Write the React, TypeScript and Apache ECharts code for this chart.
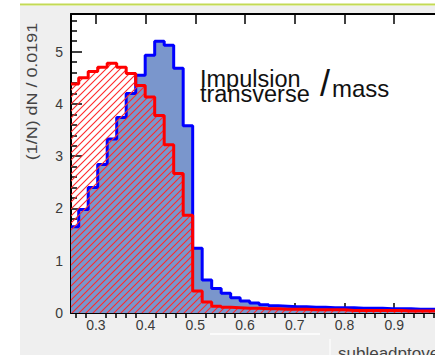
import React, { useEffect, useRef } from 'react';
import * as echarts from 'echarts';

// ---- data ----
const axisMin = 0.25;
const axisMax = 0.982;
const yMax = 5.72;
const firstEdge = 0.2655;
const binWidth = 0.0191;

const xMajorTicks = [0.3, 0.4, 0.5, 0.6, 0.7, 0.8, 0.9];
const xTickLabels = ['0.3', '0.4', '0.5', '0.6', '0.7', '0.8', '0.9'];
const yMajorTicks = [0, 1, 2, 3, 4, 5];
const yTickLabels = ['0', '1', '2', '3', '4', '5'];

const blueValues = [
  1.65, 1.98, 2.4, 2.84, 3.33, 3.74, 4.2, 4.55, 4.93, 5.2,
  5.12, 4.68, 3.58, 1.24, 0.63, 0.47, 0.38, 0.29, 0.23, 0.19,
  0.16, 0.14, 0.13, 0.12, 0.12, 0.11, 0.11, 0.1, 0.1, 0.1,
  0.09, 0.09, 0.09, 0.08, 0.08, 0.08, 0.07, 0.07, 0.07, 0.06,
];
const redValues = [
  4.38, 4.5, 4.62, 4.7, 4.78, 4.7, 4.58, 4.35, 4.13, 3.78,
  3.22, 2.67, 1.87, 0.42, 0.21, 0.13, 0.11, 0.1, 0.09, 0.09,
  0.08, 0.08, 0.07, 0.07, 0.07, 0.06, 0.06, 0.06, 0.06, 0.05,
  0.05, 0.05, 0.05, 0.05, 0.05, 0.04, 0.04, 0.04, 0.04, 0.04,
];

const yTitle = '(1/N) dN / 0.0191';
const xTitle = 'subleadptoverm';
const annotLines = ['Impulsion', 'transverse'];
const annotSlash = '/';
const annotMass = 'mass';

const FONT = '"Liberation Sans", Arial, sans-serif';

function stepPoints(values: number[]) {
  const pts: number[][] = [];
  values.forEach((v, i) => {
    const left = i === 0 ? axisMin : firstEdge + (i - 1) * binWidth;
    pts.push([left, v]);
  });
  const lastRight = firstEdge + (values.length - 1) * binWidth;
  pts.push([lastRight, values[values.length - 1]]);
  return pts;
}

function minorTicks(min: number, max: number, step: number, majors: number[]) {
  const out: number[] = [];
  const start = Math.ceil(min / step - 1e-9);
  for (let k = start; k * step <= max + 1e-9; k++) {
    const v = Math.round(k * step * 1000) / 1000;
    if (v <= min + 1e-9 || v >= max - 1e-9) continue;
    if (majors.some((m) => Math.abs(m - v) < 1e-6)) continue;
    out.push(v);
  }
  return out;
}

function makeHatch() {
  const s = 7;
  const c = document.createElement('canvas');
  c.width = s;
  c.height = s;
  const ctx = c.getContext('2d')!;
  ctx.strokeStyle = '#ff2a2a';
  ctx.lineWidth = 1.1;
  ctx.beginPath();
  ctx.moveTo(0, s);
  ctx.lineTo(s, 0);
  ctx.moveTo(-2, 2);
  ctx.lineTo(2, -2);
  ctx.moveTo(s - 2, s + 2);
  ctx.lineTo(s + 2, s - 2);
  ctx.stroke();
  return { image: c, repeat: 'repeat', imageWidth: s, imageHeight: s };
}

export default function App() {
  const ref = useRef<HTMLDivElement>(null);
  useEffect(() => {
    if (!ref.current) return;
    const chart = echarts.init(ref.current, null, { renderer: 'svg' });
    const xMinor = minorTicks(axisMin, axisMax, 0.02, xMajorTicks);
    const yMinor = minorTicks(0, yMax, 0.2, yMajorTicks);
    const xFmt = (v: number) => {
      const i = xMajorTicks.findIndex((t) => Math.abs(t - v) < 1e-6);
      return i >= 0 ? xTickLabels[i] : '';
    };
    const yFmt = (v: number) => {
      const i = yMajorTicks.findIndex((t) => Math.abs(t - v) < 1e-6);
      return i >= 0 ? yTickLabels[i] : '';
    };
    const axisCommon = {
      type: 'value',
      min: axisMin,
      max: axisMax,
      splitLine: { show: false },
    };
    const yCommon = {
      type: 'value',
      min: 0,
      max: yMax,
      splitLine: { show: false },
    };
    chart.setOption({
      animation: false,
      grid: { left: 71, right: 0, top: 14, bottom: 42, containLabel: false },
      graphic: [
        { type: 'rect', z: -10, shape: { x: 20, y: 6, width: 415, height: 349 }, style: { fill: '#efefef' } },
        { type: 'rect', z: -9, shape: { x: 71, y: 14, width: 364, height: 299 }, style: { fill: '#ffffff' } },
        { type: 'line', z: -8, shape: { x1: 20, y1: 4.5, x2: 435, y2: 4.5 }, style: { stroke: '#c3da55', lineWidth: 2 } },
        { type: 'line', z: -8, shape: { x1: 210, y1: 334, x2: 320, y2: 334 }, style: { stroke: '#ffffff', lineWidth: 1.5 } },
        { type: 'line', z: -8, shape: { x1: 330, y1: 339, x2: 330, y2: 355 }, style: { stroke: '#fbfbfb', lineWidth: 1.5 } },
        {
          type: 'text', x: 32, y: 91.5, rotation: Math.PI / 2, scaleX: 1.28,
          style: { text: yTitle, fontSize: 14, fontFamily: FONT, fill: '#444', align: 'center', verticalAlign: 'middle' },
        },
        {
          type: 'text', x: 200, y: 72, z: 10,
          style: {
            text: annotLines.join('\n'), fontSize: 23.5, lineHeight: 14.5, fontFamily: FONT,
            fill: '#111', align: 'left', verticalAlign: 'top',
          },
        },
        {
          type: 'text', x: 320, y: 65.5, z: 10,
          style: { text: annotSlash, fontSize: 36, fontFamily: FONT, fill: '#111', align: 'left', verticalAlign: 'top' },
        },
        {
          type: 'text', x: 332, y: 76.4, z: 10,
          style: { text: annotMass, fontSize: 24, fontFamily: FONT, fill: '#111', align: 'left', verticalAlign: 'top' },
        },
        {
          type: 'text', x: 338, y: 353, z: 10,
          style: { text: xTitle, fontSize: 17, fontFamily: FONT, fill: '#444', align: 'left', verticalAlign: 'middle' },
        },
      ],
      xAxis: [
        {
          ...axisCommon,
          position: 'bottom',
          axisLine: { show: true, onZero: false, lineStyle: { color: '#000', width: 2 } },
          axisTick: { show: true, inside: true, length: 10, customValues: xMajorTicks, lineStyle: { color: '#000', width: 1.5 } },
          axisLabel: { show: true, customValues: xMajorTicks, formatter: xFmt, margin: 5, color: '#3a3a3a', fontSize: 14, fontFamily: FONT },
        },
        {
          ...axisCommon,
          position: 'bottom',
          axisLine: { show: false },
          axisTick: { show: true, inside: true, length: 5, customValues: xMinor, lineStyle: { color: '#000', width: 1.5 } },
          axisLabel: { show: false },
        },
        {
          ...axisCommon,
          position: 'top',
          axisLine: { show: true, onZero: false, lineStyle: { color: '#000', width: 2 } },
          axisTick: { show: true, inside: true, length: 10, customValues: xMajorTicks, lineStyle: { color: '#000', width: 1.5 } },
          axisLabel: { show: false },
        },
        {
          ...axisCommon,
          position: 'top',
          axisLine: { show: false },
          axisTick: { show: true, inside: true, length: 5, customValues: xMinor, lineStyle: { color: '#000', width: 1.5 } },
          axisLabel: { show: false },
        },
      ],
      yAxis: [
        {
          ...yCommon,
          position: 'left',
          axisLine: { show: true, onZero: false, lineStyle: { color: '#000', width: 2 } },
          axisTick: { show: true, inside: true, length: 11, customValues: yMajorTicks, lineStyle: { color: '#000', width: 1.5 } },
          axisLabel: { show: true, customValues: yMajorTicks, formatter: yFmt, margin: 8, color: '#3a3a3a', fontSize: 14, fontFamily: FONT },
        },
        {
          ...yCommon,
          position: 'left',
          axisLine: { show: false },
          axisTick: { show: true, inside: true, length: 6, customValues: yMinor, lineStyle: { color: '#000', width: 1.5 } },
          axisLabel: { show: false },
        },
      ],
      series: [
        {
          type: 'line',
          xAxisIndex: 0,
          yAxisIndex: 0,
          step: 'end',
          symbol: 'none',
          data: stepPoints(blueValues),
          lineStyle: { color: '#0000ff', width: 3 },
          areaStyle: { color: '#7a96cc', opacity: 1 },
          z: 2,
        },
        {
          type: 'line',
          xAxisIndex: 0,
          yAxisIndex: 0,
          step: 'end',
          symbol: 'none',
          data: stepPoints(redValues),
          lineStyle: { color: '#ff0000', width: 3 },
          areaStyle: { color: makeHatch(), opacity: 1 },
          z: 3,
        },
      ],
    });
    return () => chart.dispose();
  }, []);
  return <div ref={ref} style={{ width: 435, height: 355, position: 'absolute', left: 0, top: 0 }} />;
}
